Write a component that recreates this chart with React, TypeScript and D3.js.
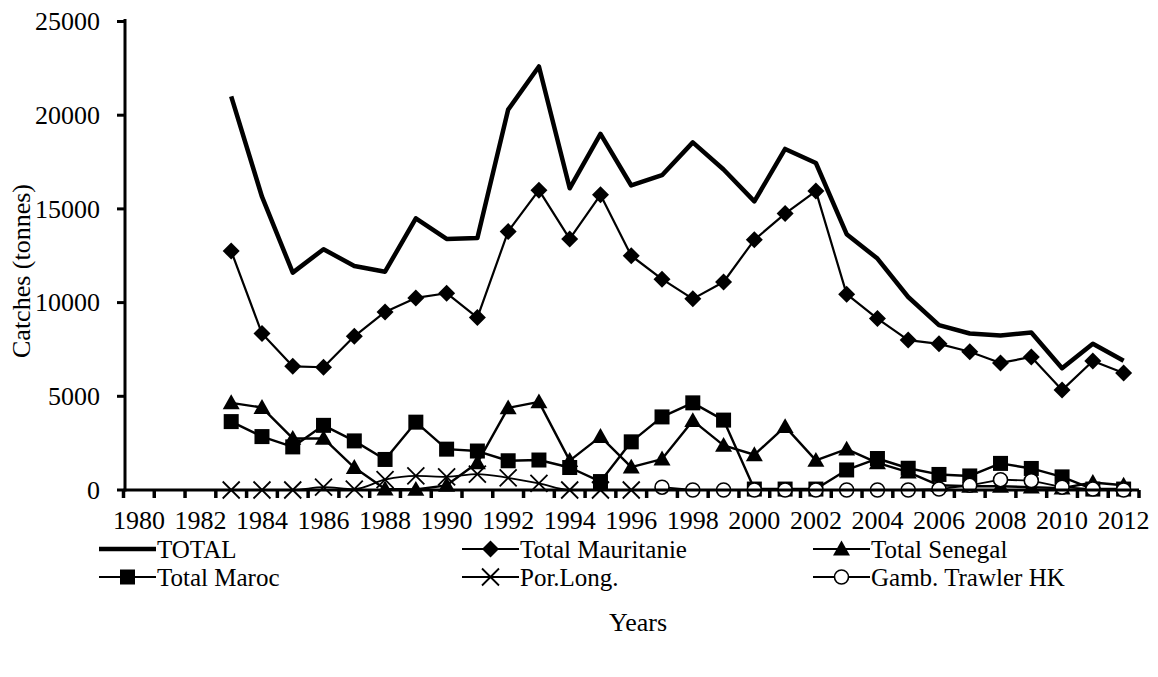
import React from "react";
import * as d3 from "d3";

const axisYears: number[] = d3.range(1980, 2013);
const tickYears: number[] = d3.range(1980, 2013, 2);
const yTicks: number[] = [0, 5000, 10000, 15000, 20000, 25000];

const yearsMain: number[] = d3.range(1983, 2013);
const total: number[] = [21000, 15650, 11600, 12850, 11950, 11650, 14500, 13400, 13450, 20300, 22600, 16100, 19000, 16250, 16800, 18550, 17100, 15400, 18200, 17450, 13650, 12350, 10300, 8800, 8350, 8250, 8400, 6500, 7800, 6900];
const mauritanie: number[] = [12750, 8350, 6600, 6550, 8200, 9500, 10250, 10500, 9200, 13800, 16000, 13400, 15750, 12500, 11250, 10200, 11100, 13350, 14750, 15950, 10450, 9150, 8000, 7800, 7380, 6780, 7100, 5330, 6880, 6240];
const senegal: number[] = [4650, 4400, 2750, 2750, 1200, 50, 30, 250, 1450, 4380, 4700, 1570, 2850, 1220, 1650, 3700, 2380, 1880, 3380, 1580, 2180, 1450, 950, 250, 200, 200, 150, 100, 400, 250];
const maroc: number[] = [3650, 2850, 2300, 3450, 2620, 1630, 3620, 2180, 2080, 1560, 1600, 1200, 450, 2570, 3900, 4650, 3730, 50, 50, 50, 1070, 1680, 1160, 830, 750, 1420, 1150, 700, 50, 50];

const yearsPor: number[] = d3.range(1983, 1997);
const porLong: number[] = [0, 0, 0, 150, 50, 550, 750, 700, 850, 650, 350, 0, 0, 0];

const yearsGamb: number[] = d3.range(1997, 2013);
const gamb: number[] = [150, 0, 0, 0, 0, 0, 0, 0, 0, 50, 250, 550, 500, 150, 50, 0];

const legendLabels: string[] = ["TOTAL", "Total Mauritanie", "Total Senegal", "Total Maroc", "Por.Long.", "Gamb. Trawler HK"];

const FONT = "Liberation Serif, DejaVu Serif, serif";
const FS = 26;
const LFS = 25;

type MarkerKind = "none" | "diamond" | "triangle" | "square" | "x" | "circle";

function Marker({ kind, x, y }: { kind: MarkerKind; x: number; y: number }) {
  if (kind === "diamond") {
    const r = 8.5;
    return <path d={`M${x},${y - r}L${x + r},${y}L${x},${y + r}L${x - r},${y}Z`} fill="#000" />;
  }
  if (kind === "triangle") {
    const r = 8.5;
    return <path d={`M${x},${y - r}L${x + r},${y + r * 0.75}L${x - r},${y + r * 0.75}Z`} fill="#000" />;
  }
  if (kind === "square") {
    const r = 7.5;
    return <rect x={x - r} y={y - r} width={2 * r} height={2 * r} fill="#000" />;
  }
  if (kind === "x") {
    const r = 8.5;
    return <path d={`M${x - r},${y - r}L${x + r},${y + r}M${x + r},${y - r}L${x - r},${y + r}`} stroke="#000" strokeWidth={1.8} fill="none" />;
  }
  if (kind === "circle") {
    return <circle cx={x} cy={y} r={7} fill="#fff" stroke="#000" strokeWidth={1.6} />;
  }
  return null;
}

const txt: React.CSSProperties = { fontFamily: FONT };

export default function App() {
  const W = 1158;
  const H = 677;
  const x = d3.scaleBand<number>().domain(axisYears).range([123.5, 1139]).padding(0);
  const bw = x.bandwidth();
  const cx = (yr: number) => (x(yr) as number) + bw / 2;
  const y = d3.scaleLinear().domain([0, 25000]).range([490, 21.5]);

  const series: { years: number[]; values: number[]; kind: MarkerKind; width: number; curve?: any }[] = [
    { years: yearsMain, values: total, kind: "none", width: 4.5 },
    { years: yearsMain, values: mauritanie, kind: "diamond", width: 2.2 },
    { years: yearsMain, values: senegal, kind: "triangle", width: 2.4 },
    { years: yearsMain, values: maroc, kind: "square", width: 2.4 },
    { years: yearsPor, values: porLong, kind: "x", width: 1.8, curve: d3.curveMonotoneX },
    { years: yearsGamb, values: gamb, kind: "circle", width: 1.8 },
  ];

  const legendPos = [
    { x: 99, y: 549 },
    { x: 462, y: 549 },
    { x: 813, y: 549 },
    { x: 99, y: 577 },
    { x: 462, y: 577 },
    { x: 813, y: 577 },
  ];

  return (
    <svg width={W} height={H} style={{ display: "block", position: "absolute", left: 0, top: 0 }}>
      <rect width={W} height={H} fill="#fff" />
      {yTicks.map((t) => (
        <g key={t}>
          <line x1={117} x2={125} y1={y(t)} y2={y(t)} stroke="#000" strokeWidth={3} />
          <text x={100} y={y(t)} dy="0.34em" textAnchor="end" fontSize={FS} style={txt}>
            {t}
          </text>
        </g>
      ))}
      {axisYears.concat([2013]).map((yr) => {
        const px = yr === 2013 ? 1139 : (x(yr) as number);
        return <line key={yr} x1={px} x2={px} y1={490} y2={498} stroke="#000" strokeWidth={3.5} />;
      })}
      {tickYears.map((yr) => (
        <text key={yr} x={cx(yr)} y={528.5} textAnchor="middle" fontSize={FS} style={txt}>
          {yr}
        </text>
      ))}
      <text x={638} y={631} textAnchor="middle" fontSize={FS} style={txt}>Years</text>
      <text transform={`translate(30,271) rotate(-90)`} textAnchor="middle" fontSize={FS} style={txt}>Catches (tonnes)</text>

      {series.map((s, i) => {
        const pts: [number, number][] = s.years.map((yr, j) => [cx(yr), y(s.values[j])]);
        const line = d3.line().curve(s.curve || d3.curveLinear);
        return (
          <g key={i}>
            <path d={line(pts) || ""} fill="none" stroke="#000" strokeWidth={s.width} strokeLinejoin="round" />
            {pts.map((p, j) => (
              <Marker key={j} kind={s.kind} x={p[0]} y={p[1]} />
            ))}
          </g>
        );
      })}

      <line x1={125} x2={125} y1={19} y2={491.5} stroke="#000" strokeWidth={3} />
      <line x1={123.5} x2={1139} y1={490} y2={490} stroke="#000" strokeWidth={3} />

      {legendLabels.map((lab, i) => {
        const p = legendPos[i];
        const s = series[i];
        return (
          <g key={lab}>
            <line x1={p.x} x2={p.x + 57} y1={p.y} y2={p.y} stroke="#000" strokeWidth={s.width >= 4 ? 4.5 : 2.2} />
            <Marker kind={s.kind} x={p.x + 28.5} y={p.y} />
            <text x={p.x + 58} y={p.y} dy="0.34em" fontSize={LFS} style={txt}>
              {lab}
            </text>
          </g>
        );
      })}
    </svg>
  );
}
